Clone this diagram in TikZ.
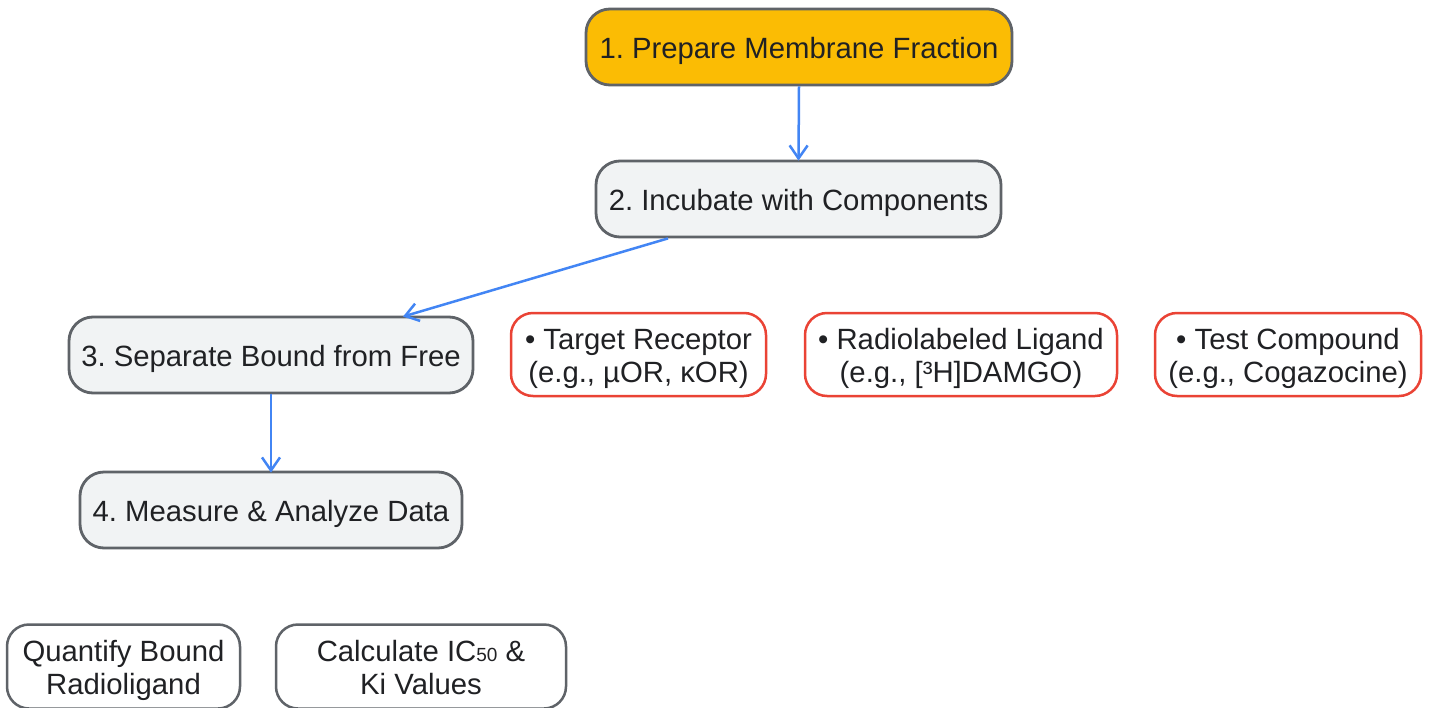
\documentclass[tikz,border=0pt]{standalone}
\usepackage{fontspec}
\setmainfont{Liberation Sans}
\usetikzlibrary{arrows.meta,calc}
\definecolor{gold}{HTML}{FBBC04}
\definecolor{lgray}{HTML}{F1F3F4}
\definecolor{bgray}{HTML}{5F6368}
\definecolor{txt}{HTML}{202124}
\definecolor{gred}{HTML}{EA4335}
\definecolor{gblue}{HTML}{4285F4}
\newcommand{\twolines}[2]{\raisebox{-11pt}[0pt][0pt]{\begin{tabular}{@{}c@{}}#1\\#2\end{tabular}}}
\begin{document}
\frenchspacing
\begin{tikzpicture}[x=1pt,y=-1pt,
  base/.style={rounded corners=24pt, align=center, text=txt, inner sep=0pt,
    font=\fontsize{29.3}{33}\selectfont\frenchspacing},
  oneline/.style={
    execute at begin node={\rule{0pt}{30pt}},
    execute at end node={\rule[-6pt]{0pt}{6pt}}},
  stepbox/.style={base, oneline, draw=bgray, line width=2.8pt, fill=lgray, minimum height=76pt},
  firstbox/.style={stepbox, fill=gold},
  itembox/.style={base, rounded corners=22pt, draw=gred, line width=2.5pt, fill=white, minimum height=83pt},
  resbox/.style={base, rounded corners=22pt, draw=bgray, line width=2.5pt, fill=white, minimum height=84pt},
  flow/.style={draw=gblue, line width=2.5pt, -{Straight Barb[length=13pt,width=18pt,line width=2.5pt]}}
]
\useasboundingbox (0,0) rectangle (1430,707);
\fill[white] (0,0) rectangle (1430,707);

\node[firstbox, minimum width=426pt] (n1) at (799,47) {1. Prepare Membrane Fraction};
\node[stepbox, minimum width=405pt] (n2) at (798.5,199) {2. Incubate with Components};
\node[stepbox, minimum width=404pt] (n3) at (271,355) {3. Separate Bound from Free};
\node[stepbox, minimum width=382pt] (n4) at (271,510) {4. Measure \& Analyze Data};

\node[itembox, minimum width=255pt] (t1) at (638.5,354.5) {\twolines{• Target Receptor}{(e.g., µOR, κOR)}};
\node[itembox, minimum width=312pt] (t2) at (961,354.5) {\twolines{• Radiolabeled Ligand}{(e.g., [³H]DAMGO)}};
\node[itembox, minimum width=266pt] (t3) at (1288,354.5) {\twolines{• Test Compound}{(e.g., Cogazocine)}};

\node[resbox, minimum width=233pt] (b1) at (123.5,666.5) {\twolines{Quantify Bound}{Radioligand}};
\node[resbox, minimum width=290pt] (b2) at (421,666.5) {\twolines{Calculate IC{\fontsize{19}{19}\selectfont 50} \&}{Ki Values}};

\draw[flow] (n1.south) -- ([yshift=-1pt]n2.north);
\draw[flow] ([xshift=-130.5pt]n2.south) -- ([xshift=132pt,yshift=-1pt]n3.north);
\draw[flow] (n3.south) -- ([yshift=-2pt]n4.north);
\end{tikzpicture}
\end{document}
